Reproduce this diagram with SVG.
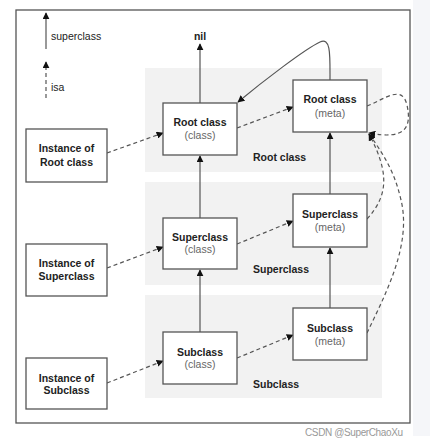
<svg xmlns="http://www.w3.org/2000/svg" width="430" height="446" viewBox="0 0 430 446">
<style>
.box{fill:#fff;stroke:#555;stroke-width:1.3}
.band{fill:#f2f2f2}
.t{font-family:"Liberation Sans",Arial,sans-serif;font-size:10.5px;font-weight:bold;fill:#222;text-anchor:middle}
.s{font-family:"Liberation Sans",Arial,sans-serif;font-size:10.5px;fill:#666;text-anchor:middle}
.bl{font-family:"Liberation Sans",Arial,sans-serif;font-size:10.5px;font-weight:bold;fill:#222}
.lg{font-family:"Liberation Sans",Arial,sans-serif;font-size:10.5px;fill:#222}
.sup{fill:none;stroke:#555;stroke-width:1.2;marker-end:url(#ah)}
.isa{fill:none;stroke:#555;stroke-width:1.2;stroke-dasharray:4 3;marker-end:url(#ah)}
</style>
<defs>
<marker id="ah" viewBox="0 0 10 10" refX="9" refY="5" markerWidth="7" markerHeight="7" markerUnits="userSpaceOnUse" orient="auto">
<path d="M0,0 L10,5 L0,10 z" fill="#111"/>
</marker>
</defs>
<rect x="0" y="0" width="430" height="446" fill="#fff"/>
<rect x="413" y="0" width="17" height="436" fill="#f5f6f9"/>
<rect x="16" y="10" width="394" height="413" fill="#fff" stroke="#555" stroke-width="1.3"/>
<g id="bands">
<rect class="band" x="145" y="68" width="237" height="104"/>
<rect class="band" x="145" y="182" width="237" height="103"/>
<rect class="band" x="145" y="295" width="237" height="103"/>
<text class="bl" x="253" y="161">Root class</text>
<text class="bl" x="253" y="273">Superclass</text>
<text class="bl" x="253" y="388">Subclass</text>
</g>
<g id="legend">
<line class="sup" x1="46" y1="49" x2="46" y2="13"/>
<text class="lg" x="51" y="40">superclass</text>
<line class="isa" x1="46" y1="98" x2="46" y2="62"/>
<text class="lg" x="51" y="91">isa</text>
</g>
<g id="nil"><text class="t" x="200" y="40">nil</text></g>
<g id="connectors">
<line class="sup" x1="200" y1="103" x2="200" y2="44"/>
<line class="sup" x1="200" y1="218" x2="200" y2="156"/>
<line class="sup" x1="200" y1="332" x2="200" y2="270"/>
<line class="sup" x1="330" y1="194" x2="330" y2="133"/>
<line class="sup" x1="330" y1="308" x2="330" y2="248"/>
<path class="sup" d="M330,80 C330,55 331,37 320,42 C305,49 262,82 238,102"/>
<line class="isa" x1="107" y1="153" x2="163" y2="133"/>
<line class="isa" x1="107" y1="268" x2="163" y2="247"/>
<line class="isa" x1="107" y1="383" x2="163" y2="361"/>
<line class="isa" x1="237" y1="128" x2="293" y2="107"/>
<line class="isa" x1="237" y1="244" x2="293" y2="221"/>
<line class="isa" x1="237" y1="358" x2="293" y2="335"/>
<path class="isa" d="M367,106 C385,99 402,84 407,105 C412,128 405,140 369,133"/>
<path class="isa" d="M367,219 C390,194 388,170 369,134"/>
<path class="isa" d="M367,333 C385,295 412,245 401,200 C396,178 388,160 369,134"/>
</g>
<g id="root-class">
<rect class="box" x="163" y="103" width="74" height="52"/>
<text class="t" x="200" y="126">Root class</text>
<text class="s" x="200" y="139">(class)</text>
</g>
<g id="root-meta">
<rect class="box" x="293" y="80" width="74" height="52"/>
<text class="t" x="330" y="103">Root class</text>
<text class="s" x="330" y="117">(meta)</text>
</g>
<g id="inst-root">
<rect class="box" x="26" y="129" width="81" height="53"/>
<text class="t" x="66.5" y="152">Instance of</text>
<text class="t" x="66.5" y="166">Root class</text>
</g>
<g id="super-class">
<rect class="box" x="163" y="218" width="74" height="51"/>
<text class="t" x="200" y="241">Superclass</text>
<text class="s" x="200" y="253">(class)</text>
</g>
<g id="super-meta">
<rect class="box" x="293" y="194" width="74" height="53"/>
<text class="t" x="330" y="218">Superclass</text>
<text class="s" x="330" y="231">(meta)</text>
</g>
<g id="inst-super">
<rect class="box" x="26" y="244" width="81" height="52"/>
<text class="t" x="66.5" y="267">Instance of</text>
<text class="t" x="66.5" y="280">Superclass</text>
</g>
<g id="sub-class">
<rect class="box" x="163" y="332" width="74" height="52"/>
<text class="t" x="200" y="356">Subclass</text>
<text class="s" x="200" y="368">(class)</text>
</g>
<g id="sub-meta">
<rect class="box" x="293" y="308" width="74" height="52"/>
<text class="t" x="330" y="332">Subclass</text>
<text class="s" x="330" y="345">(meta)</text>
</g>
<g id="inst-sub">
<rect class="box" x="26" y="358" width="81" height="51"/>
<text class="t" x="66.5" y="382">Instance of</text>
<text class="t" x="66.5" y="394">Subclass</text>
</g>
<text x="305" y="436" font-family="'Liberation Sans',Arial,sans-serif" font-size="10px" fill="#999" textLength="98">CSDN @SuperChaoXu</text>
</svg>
